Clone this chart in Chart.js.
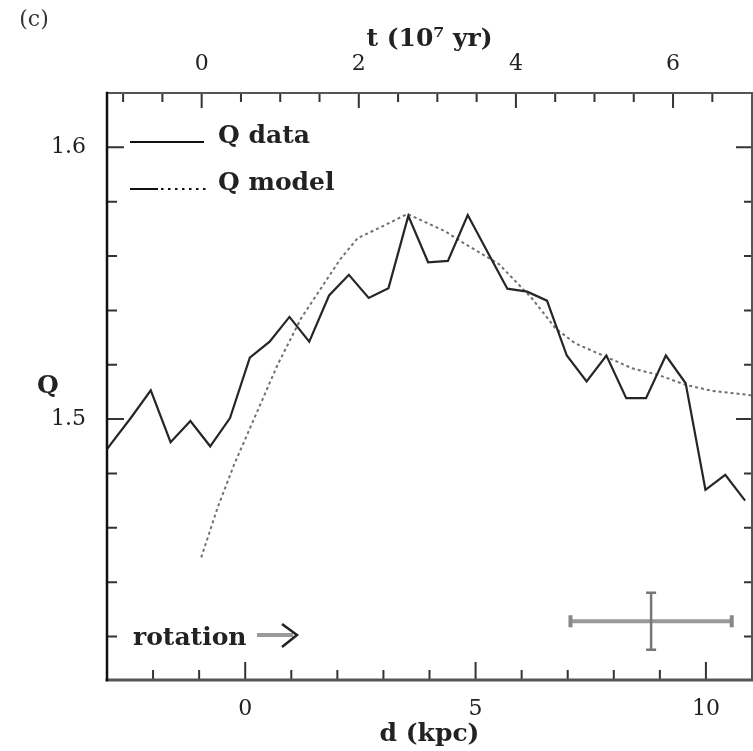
<!DOCTYPE html>
<html>
<head>
<meta charset="utf-8">
<script src="https://cdn.jsdelivr.net/npm/chart.js@4.4.1/dist/chart.umd.min.js"></script>
<style>
  html, body { margin: 0; padding: 0; background: #fff; }
  #wrap { width: 753px; height: 751px; }
</style>
</head>
<body>
<div id="wrap"><canvas id="myChart" width="753" height="751"></canvas></div>
<script>
// Q data (observed), d in kpc
const dataD = [-3.34, -2.91, -2.48, -2.05, -1.62, -1.19, -0.76, -0.33, 0.10, 0.53, 0.96, 1.39, 1.82,
  2.25, 2.68, 3.11, 3.54, 3.97, 4.40, 4.83, 5.26, 5.69, 6.12, 6.55, 6.98, 7.41, 7.84, 8.27, 8.70,
  9.13, 9.56, 9.99, 10.42, 10.85];
const dataQ = [1.481, 1.491, 1.5005, 1.5106, 1.4915, 1.4993, 1.4900, 1.5004, 1.5226, 1.5285, 1.5376, 1.5285, 1.5455,
  1.5531, 1.5446, 1.5482, 1.5748, 1.5577, 1.5582, 1.5751, 1.5615, 1.5480, 1.5469, 1.5436, 1.5234, 1.5139, 1.5234, 1.5077, 1.5077,
  1.5234, 1.5132, 1.4740, 1.4795, 1.4700];

// Q model
const modelD = [-0.955, -0.60, -0.24, 0.20, 0.70, 1.21, 1.64, 2.07, 2.44, 2.94, 3.52, 4.32, 4.71,
  5.51, 6.23, 6.74, 7.17, 7.82, 8.40, 8.98, 9.56, 10.13, 10.93, 11.0];
const modelQ = [1.4491, 1.4674, 1.4833, 1.5004, 1.5199, 1.5370, 1.5480, 1.5590, 1.5666, 1.5706, 1.5755, 1.5693, 1.5651,
  1.5570, 1.5443, 1.5333, 1.5278, 1.5230, 1.5187, 1.5162, 1.5126, 1.5104, 1.5089, 1.5088];

// typical error bar
const errD = 8.81, errQ = 1.4256, errDx = 1.75, errDq = 0.0105;

// tick labels
const dTicks = [0, 5, 10];
const tTicks = [0, 2, 4, 6];
const qTicks = [1.5, 1.6];

const serif = "'DejaVu Serif', serif";
const ink = '#222';

const fixTicks = vals => axis => { axis.ticks = vals.map(v => ({ value: v })); };

const framePlugin = {
  id: 'frame',
  afterDatasetsDraw(chart) {
    const ctx = chart.ctx;
    const a = chart.chartArea;
    const sx = chart.scales.x, st = chart.scales.xt, sy = chart.scales.y;
    ctx.save();

    // error bar
    const cx = sx.getPixelForValue(errD), cy = sy.getPixelForValue(errQ);
    const x0 = sx.getPixelForValue(errD - errDx), x1 = sx.getPixelForValue(errD + errDx);
    const y0 = sy.getPixelForValue(errQ + errDq), y1 = sy.getPixelForValue(errQ - errDq);
    ctx.strokeStyle = '#999';
    ctx.lineWidth = 4;
    ctx.beginPath(); ctx.moveTo(x0, cy); ctx.lineTo(x1, cy); ctx.stroke();
    ctx.strokeStyle = '#888';
    ctx.lineWidth = 4;
    ctx.beginPath();
    ctx.moveTo(x0, cy - 6); ctx.lineTo(x0, cy + 6);
    ctx.moveTo(x1, cy - 6); ctx.lineTo(x1, cy + 6);
    ctx.stroke();
    ctx.strokeStyle = '#777';
    ctx.lineWidth = 2.5;
    ctx.beginPath(); ctx.moveTo(cx, y0); ctx.lineTo(cx, y1); ctx.stroke();
    ctx.beginPath();
    ctx.moveTo(cx - 5, y0); ctx.lineTo(cx + 5, y0);
    ctx.moveTo(cx - 5, y1); ctx.lineTo(cx + 5, y1);
    ctx.stroke();

    // ticks, pointing inwards
    ctx.strokeStyle = '#333';
    ctx.lineWidth = 2;
    ctx.beginPath();
    for (let d = -2; d <= 10; d++) {
      const p = sx.getPixelForValue(d);
      const len = d % 5 === 0 ? 18 : 10;
      ctx.moveTo(p, a.bottom); ctx.lineTo(p, a.bottom - len);
    }
    for (let i = -2; i <= 13; i++) {
      const p = st.getPixelForValue(i / 2);
      const len = i % 4 === 0 ? 15 : 9;
      ctx.moveTo(p, a.top); ctx.lineTo(p, a.top + len);
    }
    for (let i = 71; i <= 80; i++) {
      const p = sy.getPixelForValue(i * 0.02);
      const major = i % 5 === 0;
      ctx.moveTo(a.left, p); ctx.lineTo(a.left + (major ? 17 : 10), p);
      ctx.moveTo(a.right, p); ctx.lineTo(a.right - (major ? 16 : 8), p);
    }
    ctx.stroke();

    // frame
    ctx.lineCap = 'square';
    ctx.strokeStyle = '#555';
    ctx.lineWidth = 2;
    ctx.beginPath(); ctx.moveTo(a.left, a.top); ctx.lineTo(a.right, a.top); ctx.lineTo(a.right, a.bottom); ctx.stroke();
    ctx.lineWidth = 3;
    ctx.beginPath(); ctx.moveTo(a.left, a.bottom); ctx.lineTo(a.right, a.bottom); ctx.stroke();
    ctx.strokeStyle = '#111';
    ctx.lineWidth = 2.5;
    ctx.beginPath(); ctx.moveTo(a.left, a.top); ctx.lineTo(a.left, a.bottom); ctx.stroke();

    // legend
    ctx.lineCap = 'butt';
    ctx.strokeStyle = '#111';
    ctx.lineWidth = 2;
    ctx.beginPath(); ctx.moveTo(a.left + 23, a.top + 49); ctx.lineTo(a.left + 97, a.top + 49); ctx.stroke();
    ctx.beginPath(); ctx.moveTo(a.left + 23, a.top + 96); ctx.lineTo(a.left + 51, a.top + 96); ctx.stroke();
    ctx.setLineDash([2.5, 4.5]);
    ctx.beginPath(); ctx.moveTo(a.left + 54, a.top + 96); ctx.lineTo(a.left + 99, a.top + 96); ctx.stroke();
    ctx.setLineDash([]);
    ctx.fillStyle = ink;
    ctx.font = 'bold 25px ' + serif;
    ctx.textAlign = 'left';
    ctx.textBaseline = 'alphabetic';
    ctx.fillText('Q data', a.left + 111, a.top + 50);
    ctx.fillText('Q model', a.left + 111, a.top + 97);

    // rotation arrow
    ctx.fillText('rotation', a.left + 26, a.bottom - 35);
    ctx.strokeStyle = '#999';
    ctx.lineWidth = 4;
    ctx.beginPath(); ctx.moveTo(a.left + 150, a.bottom - 45); ctx.lineTo(a.left + 186, a.bottom - 45); ctx.stroke();
    ctx.strokeStyle = '#222';
    ctx.lineWidth = 2.5;
    ctx.beginPath();
    ctx.moveTo(a.left + 175, a.bottom - 56); ctx.lineTo(a.left + 190, a.bottom - 45); ctx.lineTo(a.left + 175, a.bottom - 33);
    ctx.stroke();

    // upright axis label and panel letter
    ctx.font = 'bold 25px ' + serif;
    ctx.textAlign = 'center';
    ctx.textBaseline = 'middle';
    ctx.fillText('Q', 48, (a.top + a.bottom) / 2);
    ctx.font = '22px ' + serif;
    ctx.fillStyle = '#333';
    ctx.fillText('(c)', 34, 20);
    ctx.restore();
  }
};

const ctx = document.getElementById('myChart').getContext('2d');
const myChart = new Chart(ctx, {
  type: 'scatter',
  data: {
    datasets: [
      {
        label: 'Q data',
        data: dataD.map((d, i) => ({ x: d, y: dataQ[i] })),
        showLine: true,
        borderColor: '#262626',
        borderWidth: 2.2,
        pointRadius: 0,
        tension: 0
      },
      {
        label: 'Q model',
        data: modelD.map((d, i) => ({ x: d, y: modelQ[i] })),
        showLine: true,
        borderColor: '#707070',
        borderWidth: 2,
        borderDash: [3, 3],
        pointRadius: 0,
        tension: 0
      }
    ]
  },
  options: {
    responsive: false,
    animation: false,
    layout: { padding: { left: 0, right: 1, top: 0, bottom: 0 } },
    plugins: { legend: { display: false }, tooltip: { enabled: false } },
    scales: {
      x: {
        type: 'linear',
        position: 'bottom',
        min: -3,
        max: 11,
        afterBuildTicks: fixTicks(dTicks),
        afterFit: s => { s.height = 71; },
        grid: { display: false },
        border: { display: false },
        ticks: { color: ink, padding: 8, maxRotation: 0, font: { family: serif, size: 22 } },
        title: { display: true, text: 'd (kpc)', color: ink, padding: { top: 0, bottom: 2 }, font: { family: serif, size: 25, weight: 'bold' } }
      },
      xt: {
        type: 'linear',
        position: 'top',
        min: -1.205,
        max: 7.005,
        afterBuildTicks: fixTicks(tTicks),
        afterFit: s => { s.height = 93; },
        grid: { display: false },
        border: { display: false },
        ticks: { color: ink, padding: 8, maxRotation: 0, font: { family: serif, size: 22 } },
        title: { display: true, text: 't (10⁷ yr)', color: ink, padding: { top: 24, bottom: 0 }, font: { family: serif, size: 25, weight: 'bold' } }
      },
      y: {
        type: 'linear',
        position: 'left',
        min: 1.404,
        max: 1.62,
        afterBuildTicks: fixTicks(qTicks),
        afterFit: s => { s.width = 107; },
        grid: { display: false },
        border: { display: false },
        ticks: { color: ink, padding: 13, callback: v => v.toFixed(1), font: { family: serif, size: 22 } }
      }
    }
  },
  plugins: [framePlugin]
});
</script>
</body>
</html>
